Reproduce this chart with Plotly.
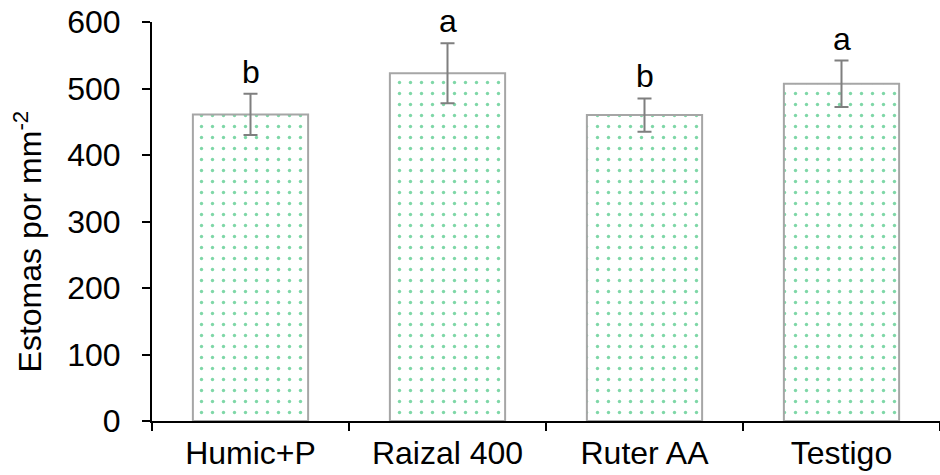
import plotly.graph_objects as go

categories = ["Humic+P", "Raizal 400", "Ruter AA", "Testigo"]
values = [461, 523, 460, 507]
errors = [31, 45, 25, 35]
letters = ["b", "a", "b", "a"]
y_ticks = [0, 100, 200, 300, 400, 500, 600]
y_title = "Estomas por mm<sup>-2</sup>"

FONT = "Liberation Sans, Arial, sans-serif"
FS = 32

fig = go.Figure()
fig.add_trace(go.Bar(
    x=categories, y=values, width=0.585,
    marker=dict(
        color="white",
        line=dict(color="#A6A6A6", width=2),
        pattern=dict(shape=".", fgcolor="#00B050", bgcolor="white",
                     size=11, solidity=0.075, fillmode="overlay"),
    ),
    error_y=dict(type="data", array=errors, visible=True,
                 color="#7F7F7F", thickness=2, width=7),
    showlegend=False,
))

for c, v, e, t in zip(categories, values, errors, letters):
    fig.add_annotation(x=c, y=v + e, text=t, showarrow=False,
                       yanchor="bottom", yshift=2,
                       font=dict(family=FONT, size=FS, color="black"))

# y-axis title placed as rotated annotation
fig.add_annotation(xref="paper", yref="paper", x=-124 / 788, y=0.45,
                   text=y_title, textangle=-90, showarrow=False,
                   xanchor="center", yanchor="middle",
                   font=dict(family=FONT, size=FS, color="black"))

fig.update_layout(
    width=940, height=475,
    margin=dict(l=152, r=0, t=22, b=54),
    paper_bgcolor="white", plot_bgcolor="white",
    font=dict(family=FONT, size=FS, color="black"),
    bargap=0.415,
)
fig.update_xaxes(
    showline=True, linecolor="black", linewidth=2,
    ticks="outside", tickson="boundaries", ticklen=8, tickwidth=2, tickcolor="black",
    showgrid=False, tickfont=dict(family=FONT, size=FS, color="black"),
    automargin=False, ticklabelstandoff=3,
)
fig.update_yaxes(
    range=[0, 600], tickvals=y_ticks,
    showline=True, linecolor="black", linewidth=2,
    ticks="outside", ticklen=8, tickwidth=2, tickcolor="black",
    showgrid=False, zeroline=False, automargin=False,
    ticklabelstandoff=15,
    tickfont=dict(family=FONT, size=FS, color="black"),
)

fig.write_html("out.html")
